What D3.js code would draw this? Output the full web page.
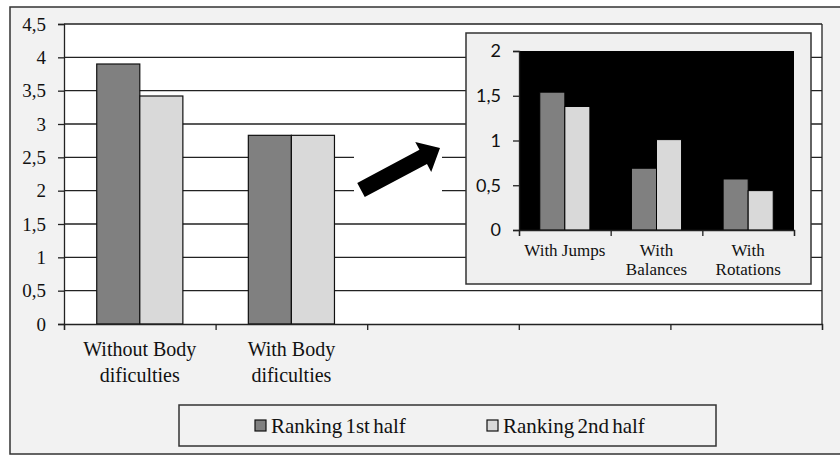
<!DOCTYPE html>
<meta charset="utf-8">
<style>
body { margin: 0; background: #fff; }
svg text { font-family: "Liberation Serif", "Times New Roman", serif; fill: #111; }
.inset-y text { font-family: Lato, "Noto Sans", sans-serif; }
</style>
<body>
<svg id="chart" width="840" height="456"></svg>
<script src="https://d3js.org/d3.v7.min.js"></script>
<script>

// main chart: 5 slots on the x axis, only the first two carry bars
var mainCategories = ["Without Body|dificulties", "With Body|dificulties"];
var mainSlots = 5;
var mainFirstHalf = [3.9, 2.83];
var mainSecondHalf = [3.42, 2.83];
var mainTicks = [0, 0.5, 1, 1.5, 2, 2.5, 3, 3.5, 4, 4.5];

// inset chart
var insetCategories = ["With Jumps", "With|Balances", "With|Rotations"];
var insetFirstHalf = [1.54, 0.69, 0.57];
var insetSecondHalf = [1.38, 1.01, 0.44];
var insetTicks = [0, 0.5, 1, 1.5, 2];

var seriesNames = ["Ranking 1st half", "Ranking 2nd half"];
var seriesColors = ["#808080", "#d9d9d9"];

var lineColor = "#222";
var commaFmt = d => String(d).replace(".", ",");

var svg = d3.select("#chart");

// outer frame
svg.append("rect")
   .attr("x", 10).attr("y", 7)
   .attr("width", 840).attr("height", 447)
   .attr("fill", "#f2f2f2")
   .attr("stroke", "#333")
   .attr("stroke-width", 1.5);

// ---------- main chart ----------
var plot = {left: 64, right: 822, top: 24, bottom: 324};

var x = d3.scaleBand()
          .domain(d3.range(mainSlots))
          .range([plot.left, plot.right]);

var xSub = d3.scaleBand()
             .domain([0, 1])
             .range([0, x.bandwidth()])
             .paddingOuter(0.76);

var y = d3.scaleLinear()
          .domain([0, 4.5])
          .range([plot.bottom, plot.top]);

svg.append("rect")
   .attr("x", plot.left).attr("y", plot.top)
   .attr("width", plot.right - plot.left)
   .attr("height", plot.bottom - plot.top)
   .attr("fill", "#fff");

svg.append("g")
   .selectAll("line")
   .data(mainTicks.filter(d => d > 0))
   .enter().append("line")
   .attr("x1", plot.left).attr("x2", plot.right)
   .attr("y1", d => y(d)).attr("y2", d => y(d))
   .attr("stroke", lineColor)
   .attr("stroke-width", 1.3);

var mainRows = mainCategories.map((c, i) => ({i: i, vals: [mainFirstHalf[i], mainSecondHalf[i]]}));

var groups = svg.append("g")
   .selectAll("g")
   .data(mainRows)
   .enter().append("g")
   .attr("transform", d => "translate(" + x(d.i) + ",0)");

groups.selectAll("rect")
   .data(d => d.vals)
   .enter().append("rect")
   .attr("x", (d, j) => xSub(j))
   .attr("y", d => y(d))
   .attr("width", xSub.bandwidth())
   .attr("height", d => y(0) - y(d))
   .attr("fill", (d, j) => seriesColors[j])
   .attr("stroke", "#111")
   .attr("stroke-width", 1.2);

// right edge of plot
svg.append("line")
   .attr("x1", plot.right).attr("x2", plot.right)
   .attr("y1", plot.top).attr("y2", plot.bottom)
   .attr("stroke", lineColor).attr("stroke-width", 1.3);

var yAxis = svg.append("g")
   .attr("transform", "translate(" + plot.left + ",0)")
   .call(d3.axisLeft(y).tickValues(mainTicks).tickFormat(commaFmt).tickSizeOuter(0).tickSize(6).tickPadding(12));
yAxis.selectAll("line, path").attr("stroke", lineColor).attr("stroke-width", 1.3);
yAxis.selectAll("text").style("font-size", "19px").attr("fill", "#111");

var xAxis = svg.append("g")
   .attr("transform", "translate(0," + plot.bottom + ")")
   .call(d3.axisBottom(d3.scaleLinear().domain([0, mainSlots]).range([plot.left, plot.right]))
           .tickValues(d3.range(mainSlots + 1)).tickFormat("").tickSizeOuter(0).tickSize(6));
xAxis.selectAll("line, path").attr("stroke", lineColor).attr("stroke-width", 1.3);

svg.append("g")
   .selectAll("text")
   .data(mainCategories)
   .enter().append("text")
   .attr("text-anchor", "middle")
   .attr("x", (d, i) => x(i) + x.bandwidth() / 2)
   .attr("y", 356)
   .style("font-size", "20px")
   .each(function(d) {
     var parts = d.split("|");
     d3.select(this).selectAll("tspan")
       .data(parts)
       .enter().append("tspan")
       .attr("x", d3.select(this).attr("x"))
       .attr("dy", (p, k) => k === 0 ? 0 : 26)
       .text(p => p);
   });

// arrow pointing at the inset
var arrow = svg.append("g");
arrow.append("rect")
   .attr("x", 354).attr("y", 132)
   .attr("width", 88).attr("height", 82)
   .attr("fill", "#fff");
var ang = Math.atan2(148 - 190, 440 - 361) * 180 / Math.PI;
var len = Math.hypot(440 - 361, 148 - 190);
arrow.append("path")
   .attr("transform", "translate(361,190) rotate(" + ang + ")")
   .attr("d", d3.line()([[0, -8], [len - 19, -8], [len - 19, -17], [len, 0], [len - 19, 17], [len - 19, 8], [0, 8]]) + "Z")
   .attr("fill", "#000");

// ---------- inset chart ----------
var inset = {left: 519, right: 794, top: 51, bottom: 230};

svg.append("rect")
   .attr("x", 466).attr("y", 33)
   .attr("width", 811 - 466).attr("height", 284 - 33)
   .attr("fill", "#f0f0f0")
   .attr("stroke", "#333")
   .attr("stroke-width", 1.5);

svg.append("rect")
   .attr("x", inset.left).attr("y", inset.top)
   .attr("width", inset.right - inset.left)
   .attr("height", inset.bottom - inset.top)
   .attr("fill", "#000");

var xi = d3.scaleBand()
           .domain(d3.range(insetCategories.length))
           .range([inset.left, inset.right]);

var xiSub = d3.scaleBand()
              .domain([0, 1])
              .range([0, xi.bandwidth()])
              .paddingOuter(0.83);

var yi = d3.scaleLinear()
           .domain([0, 2])
           .range([inset.bottom, inset.top]);

var insetRows = insetCategories.map((c, i) => ({i: i, vals: [insetFirstHalf[i], insetSecondHalf[i]]}));

svg.append("g")
   .selectAll("g")
   .data(insetRows)
   .enter().append("g")
   .attr("transform", d => "translate(" + xi(d.i) + ",0)")
   .selectAll("rect")
   .data(d => d.vals)
   .enter().append("rect")
   .attr("x", (d, j) => xiSub(j))
   .attr("y", d => yi(d))
   .attr("width", xiSub.bandwidth())
   .attr("height", d => yi(0) - yi(d))
   .attr("fill", (d, j) => seriesColors[j])
   .attr("stroke", "#000")
   .attr("stroke-width", 1);

var yiAxis = svg.append("g")
   .attr("class", "inset-y")
   .attr("transform", "translate(" + inset.left + ",0)")
   .call(d3.axisLeft(yi).tickValues(insetTicks).tickFormat(commaFmt).tickSizeOuter(0).tickSize(6).tickPadding(12));
yiAxis.selectAll("line, path").attr("stroke", lineColor).attr("stroke-width", 1.3);
yiAxis.selectAll("text").style("font-size", "18px").attr("fill", "#111");

var xiAxis = svg.append("g")
   .attr("transform", "translate(0," + inset.bottom + ")")
   .call(d3.axisBottom(d3.scaleLinear().domain([0, insetCategories.length]).range([inset.left, inset.right]))
           .tickValues(d3.range(insetCategories.length + 1)).tickFormat("").tickSizeOuter(0).tickSize(6));
xiAxis.selectAll("line, path").attr("stroke", lineColor).attr("stroke-width", 1.3);

svg.append("g")
   .selectAll("text")
   .data(insetCategories)
   .enter().append("text")
   .attr("text-anchor", "middle")
   .attr("x", (d, i) => xi(i) + xi.bandwidth() / 2)
   .attr("y", 256)
   .style("font-size", "17px")
   .each(function(d) {
     var parts = d.split("|");
     var cx = d3.select(this).attr("x");
     d3.select(this).selectAll("tspan")
       .data(parts)
       .enter().append("tspan")
       .attr("x", cx)
       .attr("dy", (p, k) => k === 0 ? 0 : 19)
       .text(p => p);
   });

// ---------- legend ----------
var legend = svg.append("g");
legend.append("rect")
   .attr("x", 179).attr("y", 405)
   .attr("width", 716 - 179).attr("height", 41)
   .attr("fill", "#f2f2f2")
   .attr("stroke", "#333")
   .attr("stroke-width", 1.5);

var legendX = [255, 487];
var items = legend.selectAll("g.item")
   .data(seriesNames)
   .enter().append("g")
   .attr("class", "item")
   .attr("transform", (d, i) => "translate(" + legendX[i] + ",420)");
items.append("rect")
   .attr("width", 11).attr("height", 11)
   .attr("fill", (d, i) => seriesColors[i])
   .attr("stroke", "#111")
   .attr("stroke-width", 1.2);
items.append("text")
   .attr("x", 16).attr("y", 13)
   .style("font-size", "21px")
   .style("word-spacing", "-2px")
   .text(d => d);

</script>
</body>
